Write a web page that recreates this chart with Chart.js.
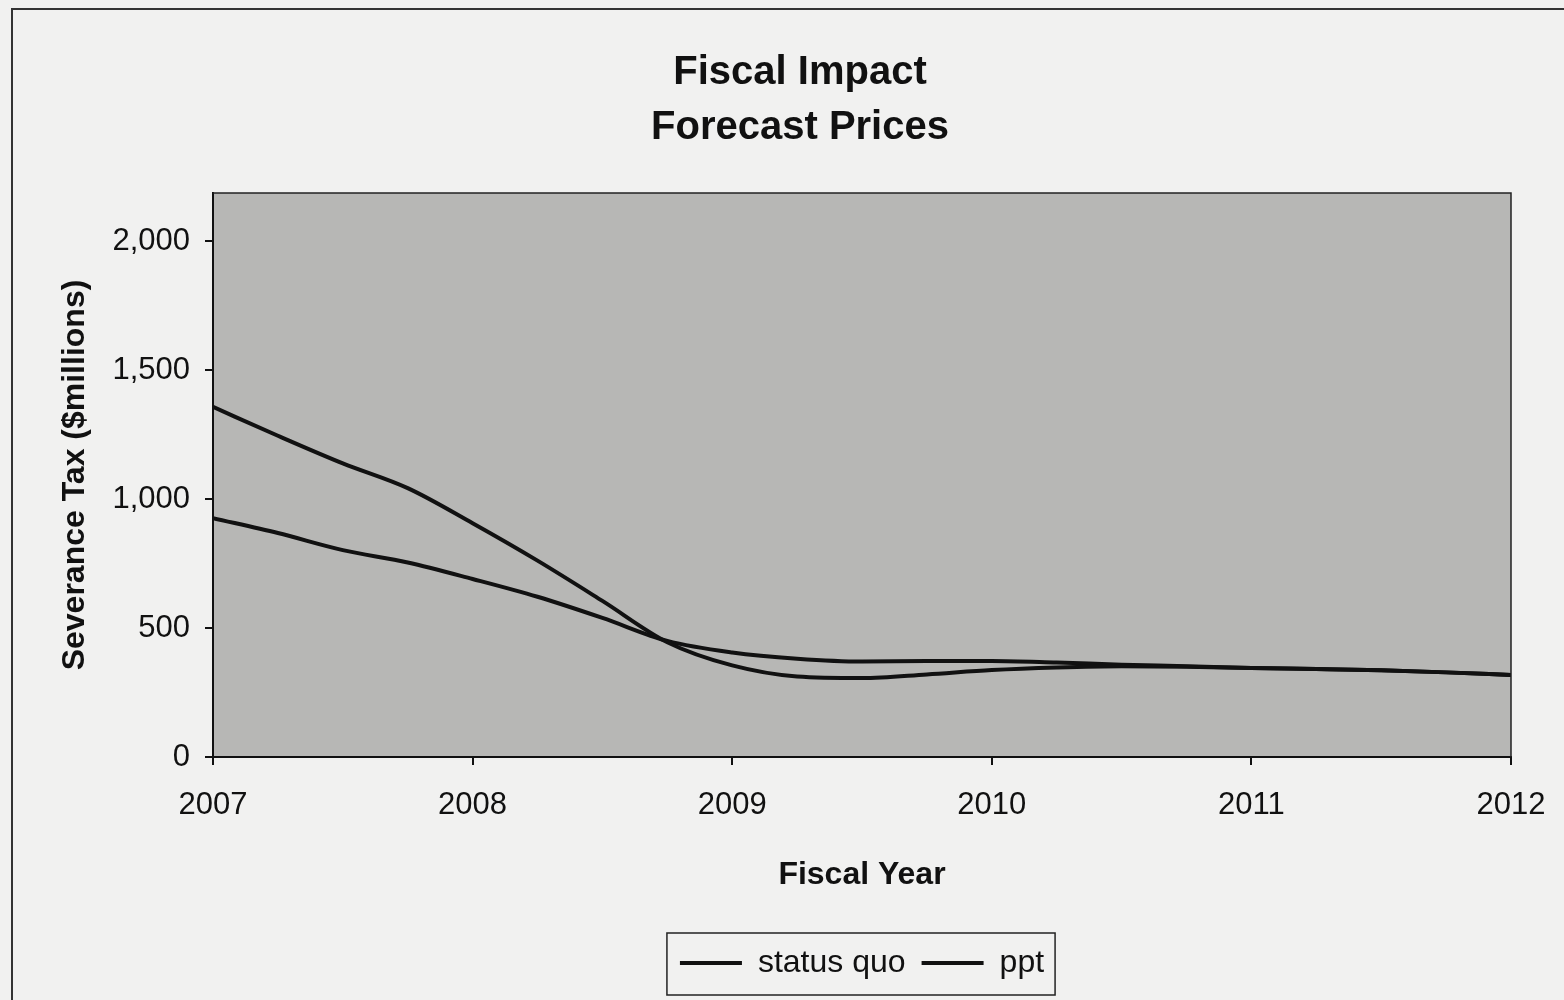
<!DOCTYPE html>
<html>
<head>
<meta charset="utf-8">
<script src="https://cdn.jsdelivr.net/npm/chart.js@4.4.0/dist/chart.umd.min.js"></script>
<style>
  html, body { margin: 0; padding: 0; background: #f1f1f0; }
  #wrap { width: 1564px; height: 1000px; position: relative; }
</style>
</head>
<body>
<div id="wrap"><canvas id="myChart" width="1564" height="1000"></canvas></div>
<script>
// quarterly points along the fiscal years
const years = [2007, 2007.25, 2007.5, 2007.75, 2008, 2008.25, 2008.5, 2008.75, 2009, 2009.25, 2009.5,
               2009.75, 2010, 2010.25, 2010.5, 2010.75, 2011, 2011.25, 2011.5, 2011.75, 2012];
const statusQuo = [1357, 1245, 1138, 1042, 906, 761, 605, 445, 355, 312, 306,
                   320, 337, 347, 352, 350, 345, 341, 336, 328, 318];
const ppt = [926, 868, 802, 754, 690, 621, 539, 450, 405, 381, 370,
             372, 372, 366, 358, 352, 345, 341, 336, 328, 318];
const yearTicks = [2007, 2008, 2009, 2010, 2011, 2012];
const taxTicks = [0, 500, 1000, 1500, 2000];

function pts(vals) {
  return years.map((x, i) => ({ x: x, y: vals[i] }));
}

const fontFam = "'Liberation Sans', Arial, sans-serif";

// gray plot area, thin frame and the outer border of the chart
const frame = {
  id: 'frame',
  afterLayout(chart) {
    // the title sits a bit right of the canvas middle
    if (chart.titleBlock) chart.titleBlock.left = 89;
  },
  beforeDraw(chart) {
    const c = chart.ctx, a = chart.chartArea;
    c.save();
    c.fillStyle = '#b7b7b5';
    c.fillRect(a.left, a.top, a.right - a.left, a.bottom - a.top);
    c.restore();
  },
  afterDraw(chart) {
    const c = chart.ctx, a = chart.chartArea, lg = chart.legend;
    c.save();
    c.strokeStyle = '#222';
    c.lineWidth = 1.5;
    c.beginPath();
    c.moveTo(a.left, a.top);
    c.lineTo(a.right, a.top);
    c.lineTo(a.right, a.bottom);
    c.stroke();
    c.lineWidth = 2;
    c.strokeStyle = '#333';
    c.beginPath();
    c.moveTo(12, 1000);
    c.lineTo(12, 9);
    c.lineTo(1564, 9);
    c.stroke();
    // box round the legend items
    if (lg && lg.legendHitBoxes.length) {
      const first = lg.legendHitBoxes[0];
      const last = lg.legendHitBoxes[lg.legendHitBoxes.length - 1];
      c.lineWidth = 1.5;
      c.strokeStyle = '#222';
      c.strokeRect(first.left - 13, first.top - 14, last.left + last.width - first.left + 24, first.height + 30);
    }
    c.restore();
  }
};

const ctx = document.getElementById('myChart');
const lineChart = new Chart(ctx, {
  type: 'line',
  data: {
    datasets: [{
      label: 'status quo',
      data: pts(statusQuo),
      borderColor: '#111',
      backgroundColor: '#111',
      borderWidth: 4,
      pointRadius: 0,
      tension: 0.4,
      cubicInterpolationMode: 'monotone'
    }, {
      label: 'ppt',
      data: pts(ppt),
      borderColor: '#111',
      backgroundColor: '#111',
      borderWidth: 4,
      pointRadius: 0,
      tension: 0.4,
      cubicInterpolationMode: 'monotone'
    }]
  },
  plugins: [frame],
  options: {
    responsive: false,
    animation: false,
    layout: { padding: { left: 40, right: 53, top: 45, bottom: 11 } },
    plugins: {
      title: {
        display: true,
        text: ['Fiscal Impact', 'Forecast Prices'],
        color: '#111',
        font: { family: fontFam, size: 40, weight: 'bold', lineHeight: 1.375 },
        padding: { top: 0, bottom: 38 }
      },
      legend: {
        position: 'bottom',
        fullSize: false,
        labels: {
          color: '#111',
          font: { family: fontFam, size: 32 },
          usePointStyle: true,
          pointStyle: 'line',
          pointStyleWidth: 62,
          boxHeight: 3,
          padding: 16
        }
      },
      tooltip: { enabled: false }
    },
    scales: {
      x: {
        type: 'linear',
        min: 2007,
        max: 2012,
        afterBuildTicks: (s) => { s.ticks = yearTicks.map(v => ({ value: v })); },
        afterFit: (s) => { s.height = 174; s.paddingLeft = 0; s.paddingRight = 0; },
        ticks: {
          color: '#111',
          font: { family: fontFam, size: 31 },
          padding: 22,
          maxRotation: 0,
          callback: (v) => String(v)
        },
        grid: { drawOnChartArea: false, drawTicks: true, tickLength: 8, color: '#111', lineWidth: 2 },
        border: { color: '#111', width: 2 },
        title: {
          display: true,
          text: 'Fiscal Year',
          color: '#111',
          font: { family: fontFam, size: 32, weight: 'bold' },
          padding: { top: 0, bottom: 37 }
        }
      },
      y: {
        min: 0,
        max: 2186,
        afterBuildTicks: (s) => { s.ticks = taxTicks.map(v => ({ value: v })); },
        afterFit: (s) => { s.width = 173; },
        ticks: {
          color: '#111',
          font: { family: fontFam, size: 31 },
          padding: 15,
          callback: (v) => v.toLocaleString('en-US')
        },
        grid: { drawOnChartArea: false, drawTicks: true, tickLength: 8, color: '#111', lineWidth: 2 },
        border: { color: '#111', width: 2 },
        title: {
          display: true,
          text: 'Severance Tax ($millions)',
          color: '#111',
          font: { family: fontFam, size: 32, weight: 'bold' },
          padding: { top: 16, bottom: 0 }
        }
      }
    }
  }
});
</script>
</body>
</html>
